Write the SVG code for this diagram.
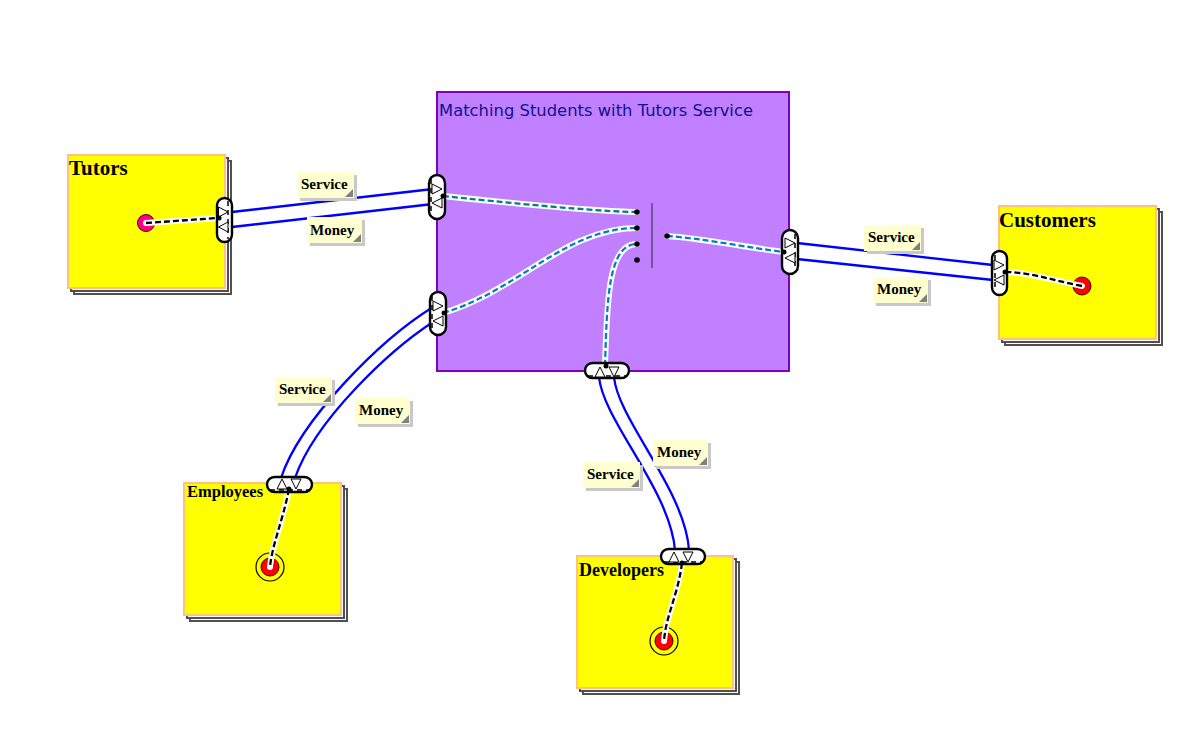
<svg xmlns="http://www.w3.org/2000/svg" width="1200" height="746" viewBox="0 0 1200 746">
<style>
.page{fill:#ffffff;stroke:#505050;stroke-width:2}
.actor{fill:#ffff00;stroke:#ffc080;stroke-width:2}
.aname{font-family:"Liberation Serif","Times New Roman",serif;font-weight:bold;fill:#000}
.port{fill:#ffffff;stroke:#000;stroke-width:2.4}
.tri{fill:#ffffff;stroke:#000;stroke-width:1}
.pdash{fill:none;stroke:#000;stroke-width:1.5;stroke-dasharray:5 4}
.dot{fill:#000}
.flow{fill:none;stroke:#0000ff;stroke-width:2.3}
.halo{fill:none;stroke:#ffffff;stroke-width:6;stroke-linecap:round}
.dblk{fill:none;stroke:#000;stroke-width:2.3;stroke-dasharray:6 3}
.dteal{fill:none;stroke:#008080;stroke-width:2.3;stroke-dasharray:6 3}
.dblue{fill:none;stroke:#0080c0;stroke-width:2.3;stroke-dasharray:6 3}
.lbl{fill:#ffffd0}
.lsh{fill:#c8c8c8}
.fold{fill:#808080}
.ltxt{font-family:"Liberation Serif","Times New Roman",serif;font-weight:bold;font-size:15px;fill:#000}
</style>

<!-- Central service box -->
<g id="service">
  <rect x="437" y="92" width="352" height="279" fill="#c080ff" stroke="#8000c0" stroke-width="2"/>
  <text x="439" y="116" font-family="DejaVu Sans, Verdana, sans-serif" font-size="16.5" fill="#101090" textLength="314" lengthAdjust="spacingAndGlyphs">Matching Students with Tutors Service</text>
</g>

<!-- Tutors -->
<g id="tutors">
  <rect class="page" x="74" y="161" width="157" height="133"/>
  <rect class="page" x="71" y="158" width="157" height="133"/>
  <rect class="actor" x="68" y="155" width="157" height="133"/>
  <text class="aname" x="69" y="175" font-size="21">Tutors</text>
  <circle cx="146" cy="223" r="8.5" fill="#ff0080" stroke="#400020" stroke-width="1"/>
</g>

<!-- Customers -->
<g id="customers">
  <rect class="page" x="1005" y="212" width="157" height="133"/>
  <rect class="page" x="1002" y="209" width="157" height="133"/>
  <rect class="actor" x="999" y="206" width="157" height="133"/>
  <text class="aname" x="999" y="227" font-size="21">Customers</text>
  <circle cx="1082" cy="286" r="9" fill="#ff0000" stroke="#400000" stroke-width="1"/>
</g>

<!-- Employees -->
<g id="employees">
  <rect class="page" x="190" y="489" width="157" height="132"/>
  <rect class="page" x="187" y="486" width="157" height="132"/>
  <rect class="actor" x="184" y="483" width="157" height="132"/>
  <text class="aname" x="187" y="497" font-size="16.5">Employees</text>
  <circle cx="270" cy="567" r="14" fill="none" stroke="#000" stroke-width="1.2"/>
  <circle cx="270" cy="567" r="9" fill="#ff0000" stroke="#400000" stroke-width="1"/>
</g>

<!-- Developers -->
<g id="developers">
  <rect class="page" x="583" y="562" width="156" height="132"/>
  <rect class="page" x="580" y="559" width="156" height="132"/>
  <rect class="actor" x="577" y="556" width="156" height="132"/>
  <text class="aname" x="579" y="576" font-size="18">Developers</text>
  <circle cx="664" cy="641" r="14" fill="none" stroke="#000" stroke-width="1.2"/>
  <circle cx="664" cy="641" r="9" fill="#ff0000" stroke="#400000" stroke-width="1"/>
</g>

<!-- Connectors -->
<g id="connectors">
  <path class="halo" d="M146,223 L218,218"/>
  <path class="dblk" d="M146,223 L218,218"/>
  <path class="halo" d="M1082,286 C1055,281 1030,272 1005,272"/>
  <path class="dblk" d="M1082,286 C1055,281 1030,272 1005,272"/>
  <path class="halo" d="M289,489 C283,520 272,545 270,567"/>
  <path class="dblk" d="M289,489 C283,520 272,545 270,567"/>
  <path class="halo" d="M682,563 C678,595 666,615 664,641"/>
  <path class="dblk" d="M682,563 C678,595 666,615 664,641"/>

  <path class="halo" d="M443,196 C500,202 600,212 637,212"/>
  <path class="dteal" d="M443,196 C500,202 600,212 637,212"/>
  <path class="halo" d="M443,313 C520,290 565,228 637,228"/>
  <path class="dblue" d="M443,313 C520,290 565,228 637,228"/>
  <path class="halo" d="M605,366 C607,300 608,244 637,244"/>
  <path class="dblue" d="M605,366 C607,300 608,244 637,244"/>
  <path class="halo" d="M667,236 C700,238 750,248 784,252"/>
  <path class="dblue" d="M667,236 C700,238 750,248 784,252"/>

  <path class="flow" d="M232,212 L433,189"/>
  <path class="flow" d="M232,227 L433,204"/>
  <path class="flow" d="M797,243 L993,265"/>
  <path class="flow" d="M797,259 L993,280"/>
  <path class="flow" d="M433,307 C380,340 300,420 281,478"/>
  <path class="flow" d="M433,322 C390,350 315,420 295,478"/>
  <path class="flow" d="M599,377 C603,420 670,490 675,550"/>
  <path class="flow" d="M614,377 C618,420 685,490 689,550"/>
</g>

<!-- AND gate inside the service -->
<g id="gate">
  <line x1="652" y1="203" x2="652" y2="268" stroke="#604080" stroke-width="1.5"/>
  <circle class="dot" cx="637" cy="212" r="2.8"/>
  <circle class="dot" cx="637" cy="228" r="2.8"/>
  <circle class="dot" cx="637" cy="244" r="2.8"/>
  <circle class="dot" cx="637" cy="260" r="2.8"/>
  <circle class="dot" cx="667" cy="236" r="2.8"/>
</g>

<!-- Ports -->
<g id="port-tutors">
  <rect class="port" x="217" y="198" width="15" height="44" rx="7.5"/>
  <line class="pdash" x1="228" y1="201" x2="228" y2="239"/>
  <path class="tri" d="M218.5,207 L228,212 L218.5,217 Z"/>
  <path class="tri" d="M228,222 L218.5,227 L228,232 Z"/>
  <circle class="dot" cx="219" cy="218" r="2.5"/>
</g>
<g id="port-service-left-top">
  <rect class="port" x="429" y="175" width="16" height="44" rx="8"/>
  <line class="pdash" x1="431" y1="179" x2="431" y2="215"/>
  <path class="tri" d="M432,184 L442,189 L432,194 Z"/>
  <path class="tri" d="M442,198 L432,203 L442,208 Z"/>
  <circle class="dot" cx="443" cy="196" r="2.5"/>
</g>
<g id="port-service-left-bottom">
  <rect class="port" x="430" y="292" width="16" height="43" rx="8"/>
  <line class="pdash" x1="432" y1="296" x2="432" y2="331"/>
  <path class="tri" d="M433,301 L443,306 L433,311 Z"/>
  <path class="tri" d="M443,316 L433,321 L443,326 Z"/>
  <circle class="dot" cx="444" cy="313" r="2.5"/>
</g>
<g id="port-service-right">
  <rect class="port" x="782" y="230" width="16" height="44" rx="8"/>
  <line class="pdash" x1="795" y1="234" x2="795" y2="270"/>
  <path class="tri" d="M785,238 L795,243 L785,248 Z"/>
  <path class="tri" d="M795,253 L785,258 L795,263 Z"/>
  <circle class="dot" cx="784" cy="252" r="2.5"/>
</g>
<g id="port-service-bottom">
  <rect class="port" x="585" y="363" width="44" height="15" rx="7.5"/>
  <line class="pdash" x1="588" y1="376" x2="626" y2="376"/>
  <path class="tri" d="M595,377 L600,367 L605,377 Z"/>
  <path class="tri" d="M609,367 L619,367 L614,377 Z"/>
  <circle class="dot" cx="606" cy="366" r="2.5"/>
</g>
<g id="port-customers">
  <rect class="port" x="992" y="251" width="15" height="44" rx="7.5"/>
  <line class="pdash" x1="995" y1="255" x2="995" y2="291"/>
  <path class="tri" d="M994,260 L1004,265 L994,270 Z"/>
  <path class="tri" d="M1004,275 L994,280 L1004,285 Z"/>
  <circle class="dot" cx="1005" cy="272" r="2.5"/>
</g>
<g id="port-employees">
  <rect class="port" x="267" y="477" width="45" height="15" rx="7.5"/>
  <line class="pdash" x1="270" y1="490" x2="309" y2="490"/>
  <path class="tri" d="M277,489 L282,479 L287,489 Z"/>
  <path class="tri" d="M291,479 L301,479 L296,489 Z"/>
  <circle class="dot" cx="289" cy="489" r="2.5"/>
</g>
<g id="port-developers">
  <rect class="port" x="661" y="549" width="44" height="15" rx="7.5"/>
  <line class="pdash" x1="664" y1="562" x2="702" y2="562"/>
  <path class="tri" d="M669,562 L674,552 L679,562 Z"/>
  <path class="tri" d="M683,552 L693,552 L688,562 Z"/>
  <circle class="dot" cx="682" cy="563" r="2.5"/>
</g>

<!-- Flow labels -->
<g id="label-tutors-service">
  <rect class="lsh" x="300" y="175" width="57" height="26"/>
  <rect class="lbl" x="297" y="172" width="57" height="26"/>
  <path class="fold" d="M353,189 L353,197 L345,197 Z"/>
  <text class="ltxt" x="301" y="189">Service</text>
</g>
<g id="label-tutors-money">
  <rect class="lsh" x="310" y="220" width="55" height="26"/>
  <rect class="lbl" x="307" y="217" width="55" height="26"/>
  <path class="fold" d="M361,234 L361,242 L353,242 Z"/>
  <text class="ltxt" x="310" y="235">Money</text>
</g>
<g id="label-customers-service">
  <rect class="lsh" x="867" y="228" width="57" height="26"/>
  <rect class="lbl" x="864" y="225" width="57" height="26"/>
  <path class="fold" d="M920,242 L920,250 L912,250 Z"/>
  <text class="ltxt" x="868" y="242">Service</text>
</g>
<g id="label-customers-money">
  <rect class="lsh" x="876" y="280" width="55" height="26"/>
  <rect class="lbl" x="873" y="277" width="55" height="26"/>
  <path class="fold" d="M927,294 L927,302 L919,302 Z"/>
  <text class="ltxt" x="877" y="294">Money</text>
</g>
<g id="label-employees-service">
  <rect class="lsh" x="278" y="380" width="57" height="26"/>
  <rect class="lbl" x="275" y="377" width="57" height="26"/>
  <path class="fold" d="M331,394 L331,402 L323,402 Z"/>
  <text class="ltxt" x="279" y="394">Service</text>
</g>
<g id="label-employees-money">
  <rect class="lsh" x="358" y="401" width="55" height="26"/>
  <rect class="lbl" x="355" y="398" width="55" height="26"/>
  <path class="fold" d="M409,415 L409,423 L401,423 Z"/>
  <text class="ltxt" x="359" y="415">Money</text>
</g>
<g id="label-developers-service">
  <rect class="lsh" x="586" y="465" width="57" height="26"/>
  <rect class="lbl" x="583" y="462" width="57" height="26"/>
  <path class="fold" d="M639,479 L639,487 L631,487 Z"/>
  <text class="ltxt" x="587" y="479">Service</text>
</g>
<g id="label-developers-money">
  <rect class="lsh" x="656" y="443" width="55" height="26"/>
  <rect class="lbl" x="653" y="440" width="55" height="26"/>
  <path class="fold" d="M707,457 L707,465 L699,465 Z"/>
  <text class="ltxt" x="657" y="457">Money</text>
</g>
</svg>
